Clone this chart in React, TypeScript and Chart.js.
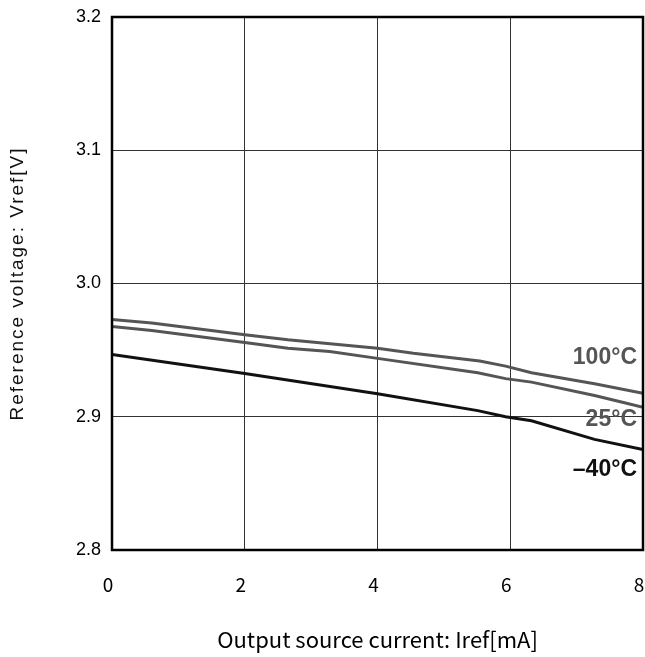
import React, { useEffect, useRef } from "react";
import { Chart, registerables } from "chart.js";

Chart.register(...registerables);

// Output source current [mA] and reference voltage [V] per temperature
const current100 = [0, 0.6, 2.0, 2.65, 4.0, 4.54, 5.54, 5.93, 6.32, 7.27, 8];
const vref100 = [2.973, 2.9704, 2.9615, 2.9577, 2.9514, 2.9476, 2.9418, 2.938, 2.933, 2.9248, 2.9177];

const current25 = [0, 0.6, 2, 2.65, 3.28, 4, 5.51, 5.93, 6.32, 7.27, 7.69, 8];
const vref25 = [2.9678, 2.9648, 2.9557, 2.9514, 2.9489, 2.9438, 2.933, 2.9286, 2.926, 2.916, 2.9109, 2.9071];

const currentM40 = [0, 2, 4, 5.51, 5.93, 6.32, 7.27, 8];
const vrefM40 = [2.9468, 2.9324, 2.9172, 2.9046, 2.9, 2.897, 2.883, 2.8754];

const seriesNames = ["100°C", "25°C", "\u201340°C"];
const seriesColors = ["#555555", "#555555", "#111111"];
// label anchor (value on the voltage axis at the right edge)
const labelVref = [2.9445, 2.8976, 2.86];

const xTicks = [0, 2, 4, 6, 8];
const yTicks = [2.8, 2.9, 3.0, 3.1, 3.2];

const xTitle = "Output source current: Iref[mA]";
const yTitle = "Reference voltage: Vref[V]";

const toPoints = (xs: number[], ys: number[]) => xs.map((x, i) => ({ x, y: ys[i] }));

export default function App() {
  const ref = useRef<HTMLCanvasElement | null>(null);

  useEffect(() => {
    if (!ref.current) return;

    const framePlugin = {
      id: "frameAndLabels",
      afterDatasetsDraw(chart: any) {
        const { ctx, scales } = chart;
        ctx.save();
        ctx.font = "bold 23px 'Liberation Sans', Arial, sans-serif";
        ctx.textAlign = "right";
        ctx.textBaseline = "middle";
        seriesNames.forEach((name, i) => {
          ctx.fillStyle = seriesColors[i];
          const px = scales.x.getPixelForValue(xTicks[xTicks.length - 1]) - 6;
          const py = scales.y.getPixelForValue(labelVref[i]);
          ctx.fillText(name, px, py);
        });
        ctx.restore();
      },
      afterDraw(chart: any) {
        const { ctx, chartArea } = chart;
        ctx.save();
        ctx.strokeStyle = "#000";
        ctx.lineWidth = 2.5;
        ctx.strokeRect(chartArea.left, chartArea.top, chartArea.right - chartArea.left, chartArea.bottom - chartArea.top);
        // y axis title (letter-spaced)
        ctx.translate(18, (chartArea.top + chartArea.bottom) / 2);
        ctx.rotate(-Math.PI / 2);
        ctx.font = "19px 'Liberation Sans', Arial, sans-serif";
        (ctx as any).letterSpacing = "2px";
        ctx.fillStyle = "#111";
        ctx.textAlign = "center";
        ctx.textBaseline = "middle";
        ctx.fillText(yTitle, 0, 0);
        ctx.restore();
      },
    };

    const chart = new Chart(ref.current, {
      type: "line",
      data: {
        datasets: [
          { label: seriesNames[0], data: toPoints(current100, vref100), borderColor: seriesColors[0] },
          { label: seriesNames[1], data: toPoints(current25, vref25), borderColor: seriesColors[1] },
          { label: seriesNames[2], data: toPoints(currentM40, vrefM40), borderColor: seriesColors[2] },
        ].map((d) => ({ ...d, borderWidth: 3, pointRadius: 0, tension: 0, fill: false })),
      },
      options: {
        animation: false,
        responsive: true,
        maintainAspectRatio: false,
        layout: { padding: { top: 17, right: 2, left: 0, bottom: 0 } },
        plugins: { legend: { display: false }, tooltip: { enabled: false } },
        scales: {
          x: {
            type: "linear",
            min: xTicks[0],
            max: xTicks[xTicks.length - 1],
            afterBuildTicks: (s: any) => { s.ticks = xTicks.map((v) => ({ value: v })); },
            ticks: {
              color: "#000",
              padding: 23,
              labelOffset: -4,
              font: { family: "'Noto Sans CJK JP', sans-serif", size: 19 },
              maxRotation: 0,
            },
            grid: { color: "#333", lineWidth: 1, drawTicks: false },
            border: { display: false },
            title: {
              display: true,
              text: xTitle,
              color: "#000",
              font: { family: "'Noto Sans CJK JP', sans-serif", size: 22 },
              padding: { top: 0, bottom: 4 },
            },
            afterFit: (s: any) => { s.height = 107; s.paddingLeft = 0; s.paddingRight = 0; },
          },
          y: {
            type: "linear",
            min: yTicks[0],
            max: yTicks[yTicks.length - 1],
            afterBuildTicks: (s: any) => { s.ticks = yTicks.map((v) => ({ value: v })); },
            ticks: {
              color: "#000",
              padding: 11,
              font: { family: "'Liberation Sans', Arial, sans-serif", size: 18 },
              callback: (v: any) => Number(v).toFixed(1),
            },
            grid: { color: "#333", lineWidth: 1, drawTicks: false },
            border: { display: false },
            title: { display: false, text: yTitle },
            afterFit: (s: any) => { s.width = 112; s.paddingTop = 0; s.paddingBottom = 0; },
          },
        },
      },
      plugins: [framePlugin],
    });

    return () => chart.destroy();
  }, []);

  return (
    <div style={{ position: "fixed", left: 0, top: 0, width: 645, height: 657, background: "#fff" }}>
      <canvas ref={ref} />
    </div>
  );
}
